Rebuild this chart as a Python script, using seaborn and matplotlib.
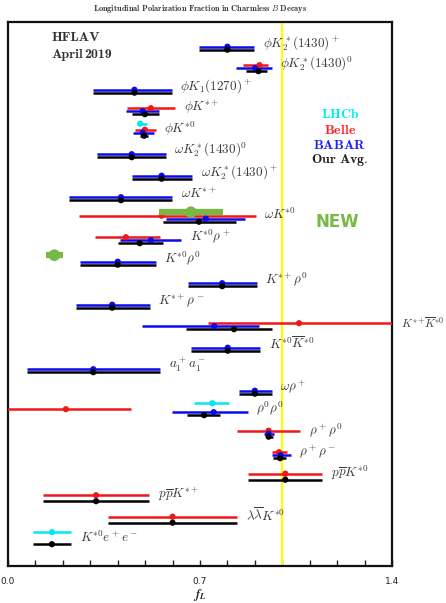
import numpy as np
import pandas as pd
import matplotlib
matplotlib.use("Agg")
import matplotlib.pyplot as plt
import seaborn as sns

nan = np.nan

decays = [r"$\phi K_2^*(1430)^+$", r"$\phi K_2^*(1430)^0$", r"$\phi K_1(1270)^+$",
          r"$\phi K^{*+}$", r"$\phi K^{*0}$", r"$\omega K_2^*(1430)^0$",
          r"$\omega K_2^*(1430)^+$", r"$\omega K^{*+}$", r"$\omega K^{*0}$",
          r"$K^{*0}\rho^+$", r"$K^{*0}\rho^0$", r"$K^{*+}\rho^0$", r"$K^{*+}\rho^-$",
          r"$K^{*+}\!\overline{K}^{*0}$", r"$K^{*0}\overline{K}^{*0}$", r"$a_1^+a_1^-$",
          r"$\omega\rho^+$", r"$\rho^0\rho^0$", r"$\rho^+\rho^0$", r"$\rho^+\rho^-$",
          r"$p\overline{p}K^{*0}$", r"$p\overline{p}K^{*+}$",
          r"$\lambda\overline{\lambda}K^{*0}$", r"$K^{*0}e^+e^-$"]

lhcb_val = [nan, nan, nan, nan, 0.482, nan, nan, nan, nan, nan, nan, nan, nan, nan, nan, nan, nan, 0.745, nan, nan, nan, nan, nan, 0.160]
lhcb_lo  = [nan, nan, nan, nan, 0.472, nan, nan, nan, nan, nan, nan, nan, nan, nan, nan, nan, nan, 0.678, nan, nan, nan, nan, nan, 0.092]
lhcb_hi  = [nan, nan, nan, nan, 0.506, nan, nan, nan, nan, nan, nan, nan, nan, nan, nan, nan, nan, 0.807, nan, nan, nan, nan, nan, 0.230]

belle_val = [nan, 0.917, nan, 0.521, 0.499, nan, nan, nan, 0.560, 0.430, nan, nan, nan, 1.061, nan, nan, nan, 0.211, 0.950, 0.988, 1.011, 0.321, 0.600, nan]
belle_lo  = [nan, 0.858, nan, 0.434, 0.463, nan, nan, nan, 0.258, 0.317, nan, nan, nan, 0.730, nan, nan, nan, -0.05, 0.836, 0.961, 0.876, 0.128, 0.366, nan]
belle_hi  = [nan, 0.949, nan, 0.609, 0.538, nan, nan, nan, 0.903, 0.554, nan, nan, nan, 1.400, nan, nan, nan, 0.447, 1.066, 1.018, 1.146, 0.515, 0.836, nan]

babar_val = [0.800, 0.901, 0.461, 0.491, 0.491, 0.451, 0.560, 0.412, 0.721, 0.521, 0.400, 0.781, 0.380, 0.752, 0.801, 0.311, 0.900, 0.750, 0.950, 0.994, nan, nan, nan, nan]
babar_lo  = [0.696, 0.832, 0.311, 0.430, 0.457, 0.326, 0.451, 0.222, 0.576, 0.408, 0.264, 0.655, 0.248, 0.490, 0.666, 0.068, 0.842, 0.599, 0.935, 0.964, nan, nan, nan, nan]
babar_hi  = [0.898, 0.961, 0.597, 0.552, 0.533, 0.575, 0.671, 0.599, 0.864, 0.631, 0.538, 0.907, 0.516, 0.916, 0.919, 0.555, 0.961, 0.874, 0.969, 1.031, nan, nan, nan, nan]

avg_val = [0.800, 0.913, 0.461, 0.499, 0.496, 0.451, 0.560, 0.412, 0.696, 0.480, 0.400, 0.781, 0.380, 0.824, 0.801, 0.311, 0.900, 0.715, 0.950, 0.992, 1.011, 0.321, 0.600, 0.160]
avg_lo  = [0.696, 0.866, 0.311, 0.451, 0.481, 0.326, 0.451, 0.222, 0.566, 0.400, 0.264, 0.655, 0.248, 0.648, 0.666, 0.068, 0.842, 0.653, 0.940, 0.967, 0.876, 0.128, 0.366, 0.092]
avg_hi  = [0.898, 0.943, 0.597, 0.550, 0.511, 0.575, 0.671, 0.599, 0.830, 0.564, 0.538, 0.907, 0.516, 0.961, 0.919, 0.555, 0.961, 0.773, 0.967, 1.013, 1.146, 0.515, 0.836, 0.230]

new_row = [8, 10]
new_val = [0.667, 0.169]
new_lo  = [0.552, 0.137]
new_hi  = [0.785, 0.199]

experiments = ["LHCb", "Belle", "BABAR", "Our Avg."]
colors = {"LHCb": "#00e8f0", "Belle": "#f01818", "BABAR": "#0a0af0", "Our Avg.": "#000000"}
row_px = 21.5
slot_px = {"LHCb": 0.0, "Belle": 6.0, "BABAR": 9.0, "Our Avg.": 12.0}

series = {"LHCb": (lhcb_val, lhcb_lo, lhcb_hi), "Belle": (belle_val, belle_lo, belle_hi),
          "BABAR": (babar_val, babar_lo, babar_hi), "Our Avg.": (avg_val, avg_lo, avg_hi)}
recs = []
for exp in experiments:
    v, lo, hi = series[exp]
    for i in range(len(decays)):
        if not np.isnan(v[i]):
            recs.append(dict(row=i, exp=exp, val=v[i], lo=lo[i], hi=hi[i],
                             y=i + slot_px[exp] / row_px))
df = pd.DataFrame(recs)

sns.set_theme(style="white")
plt.rcParams["mathtext.fontset"] = "cm"
plt.rcParams["font.family"] = ["DejaVu Sans"]

fig = plt.figure(figsize=(4.46, 6.03), dpi=100)
ax = fig.add_axes([8 / 446, 1 - 566 / 603, 384 / 446, 544 / 603])

ax.axvline(1.0, color="#ffff00", lw=1.6, zorder=1)

for exp in experiments:
    d = df[df.exp == exp]
    ax.hlines(d.y, d.lo, d.hi, colors=colors[exp], lw=1.8, zorder=3)
sns.scatterplot(data=df, x="val", y="y", hue="exp", palette=colors, hue_order=experiments,
                s=20, edgecolor="none", legend=False, ax=ax, zorder=4)

ny = np.array(new_row) + 2.5 / row_px
ax.hlines(ny, new_lo, new_hi, colors="#79b845", lw=4.5, zorder=5)
sns.scatterplot(x=new_val, y=ny, color="#79b845", s=70, marker="o", edgecolor="none",
                ax=ax, zorder=6)

ax.set_xlim(0, 1.4)
ax.set_ylim((566 - 37.7) / row_px, (22 - 37.7) / row_px)

renderer = fig.canvas.get_renderer()
for i, lab in enumerate(decays):
    d = df[df.row == i]
    xr = min(d.hi.max(), 1.4) + 0.031
    t = ax.text(xr, i + 5.0 / row_px, lab, fontsize=9.5, color="#3c3c3c", va="center",
                ha="left", clip_on=False)
    fs = 9.5
    while t.get_window_extent(renderer).x1 > 444 and fs > 6:
        fs -= 0.25
        t.set_fontsize(fs)

ax.set_yticks([])
ticks = np.round(np.arange(0, 1.41, 0.1), 1)
ax.set_xticks(ticks)
ax.set_xticklabels([f"{t:.1f}" if t in (0.0, 0.7, 1.4) else "" for t in ticks], fontsize=6.5)
ax.tick_params(axis="x", direction="in", length=4, width=1.0, pad=8, bottom=True, colors="#222222")
ax.set_xlabel("")
ax.set_ylabel("")
for s in ax.spines.values():
    s.set_linewidth(1.6)
    s.set_color("#111111")

fig.text(200 / 446, 1 - 9 / 603,
         r"$\mathbf{Longitudinal\ Polarization\ Fraction\ in\ Charmless\ }B\mathbf{\ Decays}$",
         ha="center", va="center", fontsize=6, color="#333333")
fig.text(52 / 446, 1 - 38 / 603, "HFLAV", fontfamily=["cmb10", "DejaVu Serif"],
         fontsize=10, color="#333333", va="center", ha="left")
fig.text(52 / 446, 1 - 55 / 603, "April", fontfamily=["cmb10", "DejaVu Serif"],
         fontsize=10, color="#333333", va="center", ha="left")
fig.text(84 / 446, 1 - 55 / 603, "2019", fontfamily=["cmb10", "DejaVu Serif"],
         fontsize=10, color="#333333", va="center", ha="left")
for lab, yy, c in [("LHCb", 114.5, "#00eeee"), ("Belle", 129.5, "#ff2020"),
                   ("BABAR", 145, "#2020ff"), ("Our\\ Avg.", 160, "#222222")]:
    fig.text(340 / 446, 1 - yy / 603, r"$\mathbf{" + lab + "}$", ha="center", va="center",
             fontsize=10, color=c)
fig.text(337 / 446, 1 - 222 / 603, "NEW", ha="center", va="center", fontsize=12,
         fontweight="bold", color="#79b845")
fig.text(200 / 446, 1 - 595 / 603, r"$\mathbfit{f}_{\mathbfit{L}}$", ha="center", va="center",
         fontsize=9, color="#222222", math_fontfamily="stix")

fig.savefig("out.png", dpi=100)
